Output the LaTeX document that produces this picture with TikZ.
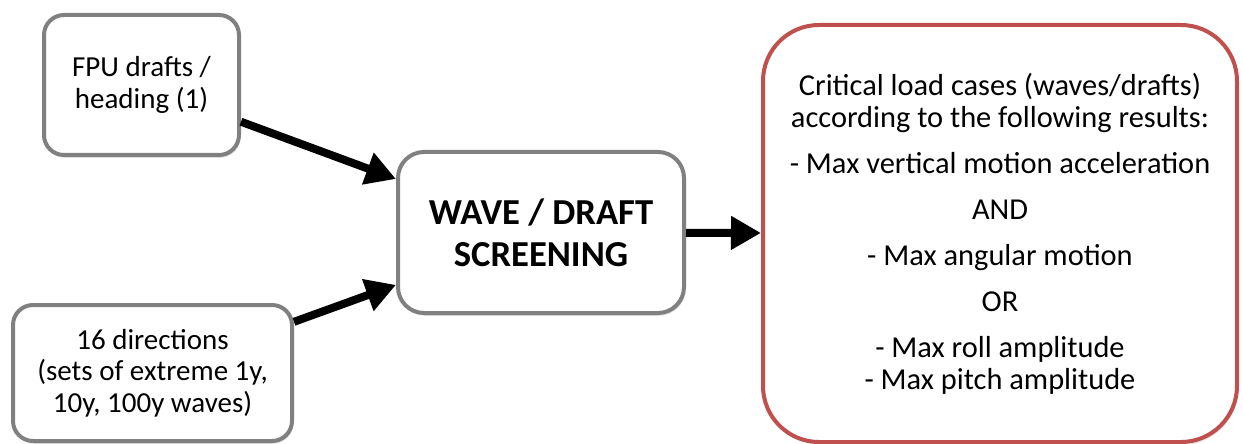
\documentclass[tikz,border=0pt]{standalone}
\usepackage{fontspec}
\setmainfont{Carlito}
\usepackage{xcolor}
\usepackage{tikz}
\usetikzlibrary{arrows.meta, shadows}
\definecolor{boxgray}{HTML}{808080}
\definecolor{boxred}{HTML}{C0504D}
\tikzstyle{inputbox} = [rectangle, rounded corners=10pt, line width=2pt, draw=boxgray, fill=white, align=center, font=\fontsize{14.5pt}{15.8pt}\selectfont, drop shadow={shadow xshift=0.6pt, shadow yshift=-1.4pt, opacity=0.25}]
\tikzstyle{screenbox} = [inputbox, rounded corners=13pt, font=\bfseries\fontsize{18.3pt}{21pt}\selectfont]
\tikzstyle{resultbox} = [inputbox, rounded corners=28pt, draw=boxred, font=\fontsize{15.2pt}{16pt}\selectfont]
\tikzstyle{arrow} = [line width=4pt, -{Triangle[length=15pt, width=16pt]}]

\begin{document}
\begin{tikzpicture}[x=0.5pt, y=-0.5pt]
\useasboundingbox (0,0) rectangle (1243,444);

\node (fpu) [inputbox, minimum width=97.5pt, minimum height=70pt] at (141.5,85) {FPU drafts /\\heading (1)};
\node (dirs) [inputbox, minimum width=139.5pt, minimum height=68pt] at (152.5,373) {16 directions\\(sets of extreme 1y,\\10y, 100y waves)};
\node (screen) [screenbox, minimum width=143pt, minimum height=80.5pt] at (541,232.5) {WAVE / DRAFT\\SCREENING};
\node (crit) [resultbox, minimum width=237pt, minimum height=208.5pt] at (1000,233.5) {Critical load cases (waves/drafts)\\according to the following results:\\[7pt]- Max vertical motion acceleration\\[7pt]AND\\[7pt]- Max angular motion\\[7pt]OR\\[7pt]- Max roll amplitude\\- Max pitch amplitude};

\draw [arrow] (fpu) -- (screen);
\draw [arrow] (dirs) -- (screen);
\draw [arrow] (screen) -- (crit);

\end{tikzpicture}
\end{document}
